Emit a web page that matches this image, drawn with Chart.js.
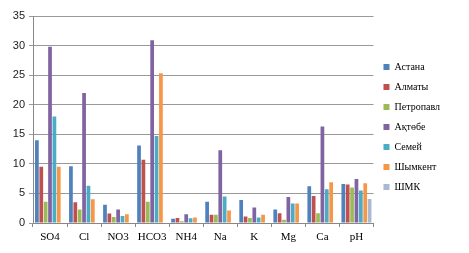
<!DOCTYPE html>
<html>
<head>
<meta charset="utf-8">
<script src="https://cdn.jsdelivr.net/npm/chart.js@4/dist/chart.umd.min.js"></script>
<style>
  html, body { margin: 0; padding: 0; background: #fff; }
  #wrap { width: 469px; height: 253px; }
</style>
</head>
<body>
<div id="wrap"><canvas id="ionChart" width="469" height="253"></canvas></div>
<script>
// categories and series
const categories = ['SO4', 'Cl', 'NO3', 'HCO3', 'NH4', 'Na', 'K', 'Mg', 'Ca', 'pH'];
const yTicks = [0, 5, 10, 15, 20, 25, 30, 35];

const astana    = [14.0, 9.6, 3.1, 13.1, 0.7, 3.6, 3.9, 2.3, 6.2, 6.6];
const almaty    = [9.5, 3.5, 1.6, 10.7, 0.85, 1.4, 1.1, 1.65, 4.55, 6.5];
const petropavl = [3.6, 2.3, 1.0, 3.6, 0.3, 1.4, 0.85, 0.55, 1.65, 6.0];
const aktobe    = [29.8, 22.0, 2.3, 30.9, 1.5, 12.3, 2.6, 4.4, 16.3, 7.45];
const semey     = [18.0, 6.3, 1.2, 14.7, 0.8, 4.5, 0.95, 3.3, 5.7, 5.5];
const shymkent  = [9.5, 4.0, 1.5, 25.3, 0.95, 2.1, 1.4, 3.3, 6.9, 6.7];
const shmk      = [null, null, null, null, null, null, null, null, null, 4.05];

const seriesNames = ['Астана', 'Алматы', 'Петропавл', 'Ақтөбе', 'Семей', 'Шымкент', 'ШМК'];
const seriesData = [astana, almaty, petropavl, aktobe, semey, shymkent, shmk];
const colors = ['#4F81BD', '#C0504D', '#9BBB59', '#8064A2', '#4BACC6', '#F79646', '#A9B9D4'];

function buildDatasets() {
    return seriesNames.map((name, i) => ({
        label: name,
        data: seriesData[i],
        backgroundColor: colors[i],
        borderColor: colors[i],
        borderWidth: 0,
        categoryPercentage: 0.9,
        barPercentage: 0.85
    }));
}

// let the x labels draw below the (shortened) x scale box
const labelRoom = {
    id: 'labelRoom',
    afterLayout(chart) {
        chart.scales.x.bottom = chart.height;
    }
};

const ctx = document.getElementById('ionChart').getContext('2d');
new Chart(ctx, {
    type: 'bar',
    data: {
        labels: categories,
        datasets: buildDatasets()
    },
    options: {
        responsive: false,
        animation: false,
        // bottom padding keeps the right legend centred like the original
        layout: { padding: { top: 16, right: 19, left: 0, bottom: 15 } },
        plugins: {
            tooltip: { enabled: false },
            legend: {
                position: 'right',
                align: 'center',
                labels: {
                    boxWidth: 6,
                    boxHeight: 6,
                    padding: 10,
                    color: '#000',
                    font: { family: 'Liberation Serif', size: 10 }
                }
            }
        },
        scales: {
            x: {
                grid: {
                    drawOnChartArea: false,
                    drawTicks: true,
                    tickLength: 4,
                    color: '#888',
                    offset: true
                },
                border: { color: '#888' },
                ticks: {
                    color: '#000',
                    padding: 4,
                    maxRotation: 0,
                    autoSkip: false,
                    font: { family: 'Liberation Serif', size: 11 }
                },
                afterFit: (scale) => { scale.height = 15; }
            },
            y: {
                min: 0,
                max: 35,
                afterBuildTicks: (scale) => { scale.ticks = yTicks.map(v => ({ value: v })); },
                grid: {
                    color: '#999',
                    lineWidth: 1,
                    tickLength: 4
                },
                border: { color: '#888' },
                ticks: {
                    color: '#222',
                    padding: 4,
                    font: { family: 'Liberation Sans', size: 11 }
                },
                afterFit: (scale) => { scale.width = 33; }
            }
        }
    },
    plugins: [labelRoom]
});
</script>
</body>
</html>
